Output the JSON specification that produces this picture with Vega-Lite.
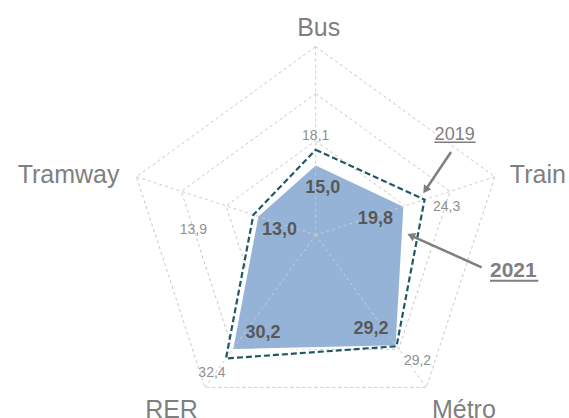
{
  "$schema": "https://vega.github.io/schema/vega-lite/v6.json",
  "width": 569,
  "height": 418,
  "autosize": "none",
  "padding": 0,
  "config": {
    "view": {"stroke": null},
    "text": {"font": "Liberation Sans"}
  },
  "datasets": {
    "modes": [
      {"mode": "Bus", "k": 0, "v2019": 18.1, "v2021": 15.0},
      {"mode": "Train", "k": 1, "v2019": 24.3, "v2021": 19.8},
      {"mode": "Métro", "k": 2, "v2019": 29.2, "v2021": 29.2},
      {"mode": "RER", "k": 3, "v2019": 32.4, "v2021": 30.2},
      {"mode": "Tramway", "k": 4, "v2019": 13.9, "v2021": 13.0}
    ],
    "grid": [
      {"level": 10, "k": 0}, {"level": 10, "k": 1}, {"level": 10, "k": 2}, {"level": 10, "k": 3}, {"level": 10, "k": 4},
      {"level": 20, "k": 0}, {"level": 20, "k": 1}, {"level": 20, "k": 2}, {"level": 20, "k": 3}, {"level": 20, "k": 4},
      {"level": 30, "k": 0}, {"level": 30, "k": 1}, {"level": 30, "k": 2}, {"level": 30, "k": 3}, {"level": 30, "k": 4},
      {"level": 40, "k": 0}, {"level": 40, "k": 1}, {"level": 40, "k": 2}, {"level": 40, "k": 3}, {"level": 40, "k": 4}
    ]
  },
  "data": {"name": "modes"},
  "transform": [
    {"calculate": "datum.k * 2 * PI / 5", "as": "a"},
    {"calculate": "datum.v2021 * sin(datum.a)", "as": "x21"},
    {"calculate": "datum.v2021 * cos(datum.a)", "as": "y21"},
    {"calculate": "datum.v2019 * sin(datum.a)", "as": "x19"},
    {"calculate": "datum.v2019 * cos(datum.a)", "as": "y19"},
    {"calculate": "40 * sin(datum.a)", "as": "x40"},
    {"calculate": "40 * cos(datum.a)", "as": "y40"},
    {"calculate": "replace(format(datum.v2019, '.1f'), '.', ',')", "as": "t19"},
    {"calculate": "replace(format(datum.v2021, '.1f'), '.', ',')", "as": "t21"}
  ],
  "layer": [
    {
      "data": {"name": "grid"},
      "transform": [
        {"calculate": "datum.level * sin(datum.k * 2 * PI / 5)", "as": "gx"},
        {"calculate": "datum.level * cos(datum.k * 2 * PI / 5)", "as": "gy"}
      ],
      "mark": {"type": "line", "interpolate": "linear-closed", "stroke": "#c8c8c8", "strokeWidth": 1, "strokeDash": [3, 3]},
      "encoding": {
        "x": {"field": "gx", "type": "quantitative", "scale": {"domain": [-67.02, 53.78], "nice": false, "zero": false}, "axis": null},
        "y": {"field": "gy", "type": "quantitative", "scale": {"domain": [-38.85, 49.89], "nice": false, "zero": false}, "axis": null},
        "detail": {"field": "level", "type": "nominal"},
        "order": {"field": "k", "type": "quantitative"}
      }
    },
    {
      "mark": {"type": "line", "interpolate": "linear-closed", "fill": "#95b3d7", "stroke": "#ffffff", "strokeWidth": 2},
      "encoding": {
        "x": {"field": "x21", "type": "quantitative", "scale": {"domain": [-67.02, 53.78], "nice": false, "zero": false}, "axis": null},
        "y": {"field": "y21", "type": "quantitative", "scale": {"domain": [-38.85, 49.89], "nice": false, "zero": false}, "axis": null},
        "order": {"field": "k", "type": "quantitative"}
      }
    },
    {
      "mark": {"type": "rule", "stroke": "#cccccc", "strokeWidth": 1, "strokeDash": [3, 3]},
      "encoding": {
        "x": {"field": "x40", "type": "quantitative", "scale": {"domain": [-67.02, 53.78], "nice": false, "zero": false}, "axis": null},
        "y": {"field": "y40", "type": "quantitative", "scale": {"domain": [-38.85, 49.89], "nice": false, "zero": false}, "axis": null},
        "x2": {"datum": 0},
        "y2": {"datum": 0}
      }
    },
    {
      "mark": {"type": "line", "interpolate": "linear-closed", "stroke": "#215868", "strokeWidth": 2.2, "strokeDash": [6, 3]},
      "encoding": {
        "x": {"field": "x19", "type": "quantitative", "scale": {"domain": [-67.02, 53.78], "nice": false, "zero": false}, "axis": null},
        "y": {"field": "y19", "type": "quantitative", "scale": {"domain": [-38.85, 49.89], "nice": false, "zero": false}, "axis": null},
        "order": {"field": "k", "type": "quantitative"}
      }
    },
    {
      "transform": [{"filter": "datum.k == 0"}],
      "mark": {"type": "text", "fontSize": 14, "color": "#909090", "align": "center", "baseline": "middle", "dx": 0, "dy": -14},
      "encoding": {
        "x": {"field": "x19", "type": "quantitative", "scale": {"domain": [-67.02, 53.78], "nice": false, "zero": false}, "axis": null},
        "y": {"field": "y19", "type": "quantitative", "scale": {"domain": [-38.85, 49.89], "nice": false, "zero": false}, "axis": null},
        "text": {"field": "t19", "type": "nominal"}
      }
    },
    {
      "transform": [{"filter": "datum.k == 1"}],
      "mark": {"type": "text", "fontSize": 14, "color": "#909090", "align": "center", "baseline": "middle", "dx": 22, "dy": 7},
      "encoding": {
        "x": {"field": "x19", "type": "quantitative", "scale": {"domain": [-67.02, 53.78], "nice": false, "zero": false}, "axis": null},
        "y": {"field": "y19", "type": "quantitative", "scale": {"domain": [-38.85, 49.89], "nice": false, "zero": false}, "axis": null},
        "text": {"field": "t19", "type": "nominal"}
      }
    },
    {
      "transform": [{"filter": "datum.k == 2"}],
      "mark": {"type": "text", "fontSize": 14, "color": "#909090", "align": "center", "baseline": "middle", "dx": 21, "dy": 15},
      "encoding": {
        "x": {"field": "x19", "type": "quantitative", "scale": {"domain": [-67.02, 53.78], "nice": false, "zero": false}, "axis": null},
        "y": {"field": "y19", "type": "quantitative", "scale": {"domain": [-38.85, 49.89], "nice": false, "zero": false}, "axis": null},
        "text": {"field": "t19", "type": "nominal"}
      }
    },
    {
      "transform": [{"filter": "datum.k == 3"}],
      "mark": {"type": "text", "fontSize": 14, "color": "#909090", "align": "center", "baseline": "middle", "dx": -14, "dy": 15},
      "encoding": {
        "x": {"field": "x19", "type": "quantitative", "scale": {"domain": [-67.02, 53.78], "nice": false, "zero": false}, "axis": null},
        "y": {"field": "y19", "type": "quantitative", "scale": {"domain": [-38.85, 49.89], "nice": false, "zero": false}, "axis": null},
        "text": {"field": "t19", "type": "nominal"}
      }
    },
    {
      "transform": [{"filter": "datum.k == 4"}],
      "mark": {"type": "text", "fontSize": 14, "color": "#909090", "align": "center", "baseline": "middle", "dx": -60, "dy": 15},
      "encoding": {
        "x": {"field": "x19", "type": "quantitative", "scale": {"domain": [-67.02, 53.78], "nice": false, "zero": false}, "axis": null},
        "y": {"field": "y19", "type": "quantitative", "scale": {"domain": [-38.85, 49.89], "nice": false, "zero": false}, "axis": null},
        "text": {"field": "t19", "type": "nominal"}
      }
    },
    {
      "transform": [{"filter": "datum.k == 0"}],
      "mark": {"type": "text", "fontSize": 18, "fontWeight": "bold", "color": "#595959", "align": "center", "baseline": "middle", "dx": 7, "dy": 24},
      "encoding": {
        "x": {"field": "x21", "type": "quantitative", "scale": {"domain": [-67.02, 53.78], "nice": false, "zero": false}, "axis": null},
        "y": {"field": "y21", "type": "quantitative", "scale": {"domain": [-38.85, 49.89], "nice": false, "zero": false}, "axis": null},
        "text": {"field": "t21", "type": "nominal"}
      }
    },
    {
      "transform": [{"filter": "datum.k == 1"}],
      "mark": {"type": "text", "fontSize": 18, "fontWeight": "bold", "color": "#595959", "align": "center", "baseline": "middle", "dx": -29, "dy": 13},
      "encoding": {
        "x": {"field": "x21", "type": "quantitative", "scale": {"domain": [-67.02, 53.78], "nice": false, "zero": false}, "axis": null},
        "y": {"field": "y21", "type": "quantitative", "scale": {"domain": [-38.85, 49.89], "nice": false, "zero": false}, "axis": null},
        "text": {"field": "t21", "type": "nominal"}
      }
    },
    {
      "transform": [{"filter": "datum.k == 2"}],
      "mark": {"type": "text", "fontSize": 18, "fontWeight": "bold", "color": "#595959", "align": "center", "baseline": "middle", "dx": -25.5, "dy": -17},
      "encoding": {
        "x": {"field": "x21", "type": "quantitative", "scale": {"domain": [-67.02, 53.78], "nice": false, "zero": false}, "axis": null},
        "y": {"field": "y21", "type": "quantitative", "scale": {"domain": [-38.85, 49.89], "nice": false, "zero": false}, "axis": null},
        "text": {"field": "t21", "type": "nominal"}
      }
    },
    {
      "transform": [{"filter": "datum.k == 3"}],
      "mark": {"type": "text", "fontSize": 18, "fontWeight": "bold", "color": "#595959", "align": "center", "baseline": "middle", "dx": 31, "dy": -17},
      "encoding": {
        "x": {"field": "x21", "type": "quantitative", "scale": {"domain": [-67.02, 53.78], "nice": false, "zero": false}, "axis": null},
        "y": {"field": "y21", "type": "quantitative", "scale": {"domain": [-38.85, 49.89], "nice": false, "zero": false}, "axis": null},
        "text": {"field": "t21", "type": "nominal"}
      }
    },
    {
      "transform": [{"filter": "datum.k == 4"}],
      "mark": {"type": "text", "fontSize": 18, "fontWeight": "bold", "color": "#595959", "align": "center", "baseline": "middle", "dx": 22, "dy": 14},
      "encoding": {
        "x": {"field": "x21", "type": "quantitative", "scale": {"domain": [-67.02, 53.78], "nice": false, "zero": false}, "axis": null},
        "y": {"field": "y21", "type": "quantitative", "scale": {"domain": [-38.85, 49.89], "nice": false, "zero": false}, "axis": null},
        "text": {"field": "t21", "type": "nominal"}
      }
    },
    {
      "transform": [{"filter": "datum.k == 0"}],
      "mark": {"type": "text", "fontSize": 25, "color": "#7f7f7f", "align": "center", "baseline": "alphabetic", "dx": 3, "dy": -10.5},
      "encoding": {
        "x": {"field": "x40", "type": "quantitative", "scale": {"domain": [-67.02, 53.78], "nice": false, "zero": false}, "axis": null},
        "y": {"field": "y40", "type": "quantitative", "scale": {"domain": [-38.85, 49.89], "nice": false, "zero": false}, "axis": null},
        "text": {"field": "mode", "type": "nominal"}
      }
    },
    {
      "transform": [{"filter": "datum.k == 1"}],
      "mark": {"type": "text", "fontSize": 25, "color": "#7f7f7f", "align": "left", "baseline": "alphabetic", "dx": 15, "dy": 6.5},
      "encoding": {
        "x": {"field": "x40", "type": "quantitative", "scale": {"domain": [-67.02, 53.78], "nice": false, "zero": false}, "axis": null},
        "y": {"field": "y40", "type": "quantitative", "scale": {"domain": [-38.85, 49.89], "nice": false, "zero": false}, "axis": null},
        "text": {"field": "mode", "type": "nominal"}
      }
    },
    {
      "transform": [{"filter": "datum.k == 2"}],
      "mark": {"type": "text", "fontSize": 25, "color": "#7f7f7f", "align": "left", "baseline": "alphabetic", "dx": 5.5, "dy": 31},
      "encoding": {
        "x": {"field": "x40", "type": "quantitative", "scale": {"domain": [-67.02, 53.78], "nice": false, "zero": false}, "axis": null},
        "y": {"field": "y40", "type": "quantitative", "scale": {"domain": [-38.85, 49.89], "nice": false, "zero": false}, "axis": null},
        "text": {"field": "mode", "type": "nominal"}
      }
    },
    {
      "transform": [{"filter": "datum.k == 3"}],
      "mark": {"type": "text", "fontSize": 25, "color": "#7f7f7f", "align": "right", "baseline": "alphabetic", "dx": -7, "dy": 31},
      "encoding": {
        "x": {"field": "x40", "type": "quantitative", "scale": {"domain": [-67.02, 53.78], "nice": false, "zero": false}, "axis": null},
        "y": {"field": "y40", "type": "quantitative", "scale": {"domain": [-38.85, 49.89], "nice": false, "zero": false}, "axis": null},
        "text": {"field": "mode", "type": "nominal"}
      }
    },
    {
      "transform": [{"filter": "datum.k == 4"}],
      "mark": {"type": "text", "fontSize": 25, "color": "#7f7f7f", "align": "right", "baseline": "alphabetic", "dx": -17, "dy": 6.5},
      "encoding": {
        "x": {"field": "x40", "type": "quantitative", "scale": {"domain": [-67.02, 53.78], "nice": false, "zero": false}, "axis": null},
        "y": {"field": "y40", "type": "quantitative", "scale": {"domain": [-38.85, 49.89], "nice": false, "zero": false}, "axis": null},
        "text": {"field": "mode", "type": "nominal"}
      }
    },
    {
      "data": {"values": [{"label": "2019"}]},
      "layer": [
        {
          "mark": {"type": "text", "fontSize": 18, "color": "#7f7f7f", "align": "left", "baseline": "alphabetic"},
          "encoding": {
            "x": {"datum": 25.25, "type": "quantitative", "scale": {"domain": [-67.02, 53.78], "nice": false, "zero": false}, "axis": null},
            "y": {"datum": 20.17, "type": "quantitative", "scale": {"domain": [-38.85, 49.89], "nice": false, "zero": false}, "axis": null},
            "text": {"field": "label", "type": "nominal"}
          }
        },
        {
          "mark": {"type": "rule", "stroke": "#7f7f7f", "strokeWidth": 1.5},
          "encoding": {
            "x": {"datum": 25.18, "type": "quantitative", "scale": {"domain": [-67.02, 53.78], "nice": false, "zero": false}, "axis": null},
            "x2": {"datum": 33.96},
            "y": {"datum": 19.68, "type": "quantitative", "scale": {"domain": [-38.85, 49.89], "nice": false, "zero": false}, "axis": null}
          }
        },
        {
          "mark": {"type": "rule", "stroke": "#7f7f7f", "strokeWidth": 2.5},
          "encoding": {
            "x": {"datum": 28.73, "type": "quantitative", "scale": {"domain": [-67.02, 53.78], "nice": false, "zero": false}, "axis": null},
            "y": {"datum": 17.62, "type": "quantitative", "scale": {"domain": [-38.85, 49.89], "nice": false, "zero": false}, "axis": null},
            "x2": {"datum": 23.31},
            "y2": {"datum": 9.55}
          }
        },
        {
          "mark": {"type": "point", "shape": "triangle-up", "filled": true, "color": "#7f7f7f", "opacity": 1, "size": 80, "angle": 214},
          "encoding": {
            "x": {"datum": 23.31, "type": "quantitative", "scale": {"domain": [-67.02, 53.78], "nice": false, "zero": false}, "axis": null},
            "y": {"datum": 9.55, "type": "quantitative", "scale": {"domain": [-38.85, 49.89], "nice": false, "zero": false}, "axis": null}
          }
        }
      ]
    },
    {
      "data": {"values": [{"label": "2021"}]},
      "layer": [
        {
          "mark": {"type": "text", "fontSize": 21, "fontWeight": "bold", "color": "#7f7f7f", "align": "left", "baseline": "alphabetic"},
          "encoding": {
            "x": {"datum": 37.0, "type": "quantitative", "scale": {"domain": [-67.02, 53.78], "nice": false, "zero": false}, "axis": null},
            "y": {"datum": -8.85, "type": "quantitative", "scale": {"domain": [-38.85, 49.89], "nice": false, "zero": false}, "axis": null},
            "text": {"field": "label", "type": "nominal"}
          }
        },
        {
          "mark": {"type": "rule", "stroke": "#7f7f7f", "strokeWidth": 2},
          "encoding": {
            "x": {"datum": 37.0, "type": "quantitative", "scale": {"domain": [-67.02, 53.78], "nice": false, "zero": false}, "axis": null},
            "x2": {"datum": 47.26},
            "y": {"datum": -9.7, "type": "quantitative", "scale": {"domain": [-38.85, 49.89], "nice": false, "zero": false}, "axis": null}
          }
        },
        {
          "mark": {"type": "rule", "stroke": "#7f7f7f", "strokeWidth": 2.5},
          "encoding": {
            "x": {"datum": 35.24, "type": "quantitative", "scale": {"domain": [-67.02, 53.78], "nice": false, "zero": false}, "axis": null},
            "y": {"datum": -6.86, "type": "quantitative", "scale": {"domain": [-38.85, 49.89], "nice": false, "zero": false}, "axis": null},
            "x2": {"datum": 20.23},
            "y2": {"datum": -0.13}
          }
        },
        {
          "mark": {"type": "point", "shape": "triangle-up", "filled": true, "color": "#7f7f7f", "opacity": 1, "size": 80, "angle": 294},
          "encoding": {
            "x": {"datum": 20.23, "type": "quantitative", "scale": {"domain": [-67.02, 53.78], "nice": false, "zero": false}, "axis": null},
            "y": {"datum": -0.13, "type": "quantitative", "scale": {"domain": [-38.85, 49.89], "nice": false, "zero": false}, "axis": null}
          }
        }
      ]
    }
  ]
}
